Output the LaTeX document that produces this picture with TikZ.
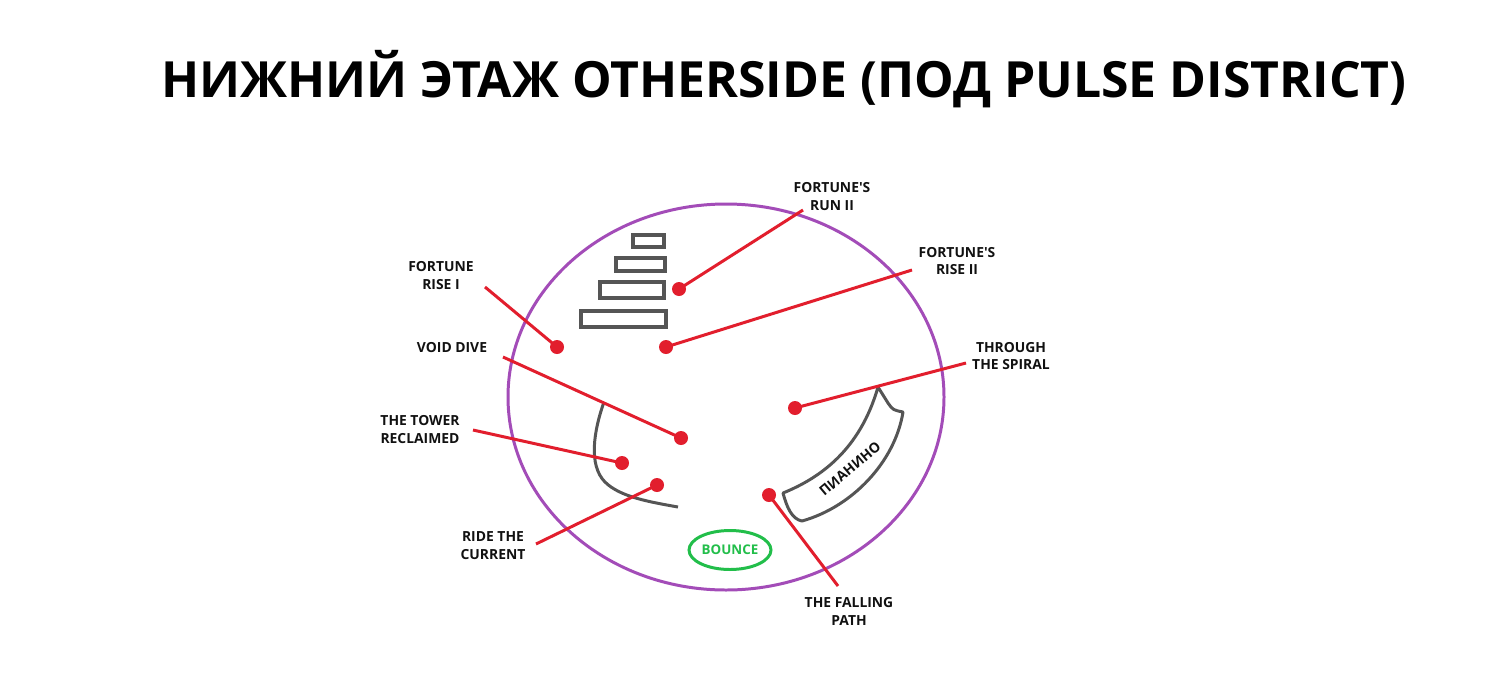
\documentclass[tikz,border=0pt]{standalone}
\usepackage{fontspec}
\setmainfont{Open Sans}
\usetikzlibrary{shapes.geometric}
\definecolor{ringpurple}{RGB}{163,76,184}
\definecolor{pinred}{RGB}{226,30,45}
\definecolor{shapegray}{RGB}{85,85,85}
\definecolor{bouncegreen}{RGB}{34,190,74}
\definecolor{inkblack}{RGB}{17,17,17}
\newcommand{\apos}{\XeTeXglyph\XeTeXcharglyph"0027\relax}
\tikzset{
  spot/.style={fill=pinred,circle,inner sep=0pt,minimum size=0.28cm},
  lead/.style={draw=pinred,line width=1.7pt},
  tag/.style={font=\bfseries\fontsize{7.9}{10.2}\selectfont,text=inkblack,align=center,inner sep=0pt},
}
\begin{document}
\begin{tikzpicture}[x=0.02cm,y=-0.02cm]
      \useasboundingbox[fill=white] (0,0) rectangle (1500,697);

      \node (title) at (784,97) [anchor=base,font=\bfseries\fontsize{28.4}{34}\selectfont] {НИЖНИЙ ЭТАЖ OTHERSIDE (ПОД PULSE DISTRICT)};

      \draw[ringpurple,line width=1.7pt] (726,397) ellipse [x radius=218,y radius=193];

      % tower
      \draw[shapegray,line width=2.8pt] (633,235) rectangle (664,247);
      \draw[shapegray,line width=2.8pt] (616,258) rectangle (665,271);
      \draw[shapegray,line width=2.8pt] (600,282) rectangle (664,298);
      \draw[shapegray,line width=2.8pt] (581,311) rectangle (666,327);

      % left bend
      \draw[shapegray,line width=1.7pt] (604,402) .. controls (594,430) and (588,465) .. (605,482)
            .. controls (620,497) and (650,502) .. (678,507);

      % piano
      \draw[shapegray,line width=1.7pt,line join=round] (878,387) -- (888,403) .. controls (893,410) .. (903,412)
            .. controls (895,462) and (852,507) .. (802,521)
            .. controls (792,519) and (787,508) .. (783,493)
            .. controls (820,478) and (860,450) .. cycle;
      \node (piano) at (850,469) [tag,rotate=40] {ПИАНИНО};

      \node (bounce) at (730,550) [ellipse,draw=bouncegreen,line width=1.7pt,minimum width=1.64cm,minimum height=0.78cm,inner sep=0pt,text=bouncegreen,font=\bfseries\fontsize{7.6}{9}\selectfont] {BOUNCE};

      % dots
      \node (riseI) at (557,347) [spot] {};
      \node (runII) at (679,289) [spot] {};
      \node (riseII) at (666,347) [spot] {};
      \node (void) at (681,438) [spot] {};
      \node (spiral) at (795,408) [spot] {};
      \node (tower) at (622,463) [spot] {};
      \node (ride) at (657,485) [spot] {};
      \node (falling) at (769,495) [spot] {};

      % labels
      \node (riseItag) at (441,275.5) [tag] {FORTUNE\\RISE I};
      \node (runIItag) at (832,196.5) [tag] {FORTUNE\apos S\\RUN II};
      \node (riseIItag) at (957,261) [tag] {FORTUNE\apos S\\RISE II};
      \node (voidtag) at (452,348) [tag] {VOID DIVE};
      \node (spiraltag) at (1011,356) [tag] {THROUGH\\THE SPIRAL};
      \node (towertag) at (420,429.5) [tag] {THE TOWER\\RECLAIMED};
      \node (ridetag) at (493,546) [tag] {RIDE THE\\CURRENT};
      \node (fallingtag) at (849,611) [tag] {THE FALLING\\PATH};

      \coordinate (riseIend) at (485,287);
      \coordinate (runIIend) at (803,210);
      \coordinate (riseIIend) at (912,270);
      \coordinate (voidend) at (503,357);
      \coordinate (spiralend) at (966,363);
      \coordinate (towerend) at (473,430);
      \coordinate (rideend) at (536,544);
      \coordinate (fallingend) at (838,586);

      \path[lead] (riseIend) -- (riseI.center);
      \path[lead] (runIIend) -- (runII.center);
      \path[lead] (riseIIend) -- (riseII.center);
      \path[lead] (voidend) -- (void.center);
      \path[lead] (spiralend) -- (spiral.center);
      \path[lead] (towerend) -- (tower.center);
      \path[lead] (rideend) -- (ride.center);
      \path[lead] (fallingend) -- (falling.center);

\end{tikzpicture}
\end{document}
